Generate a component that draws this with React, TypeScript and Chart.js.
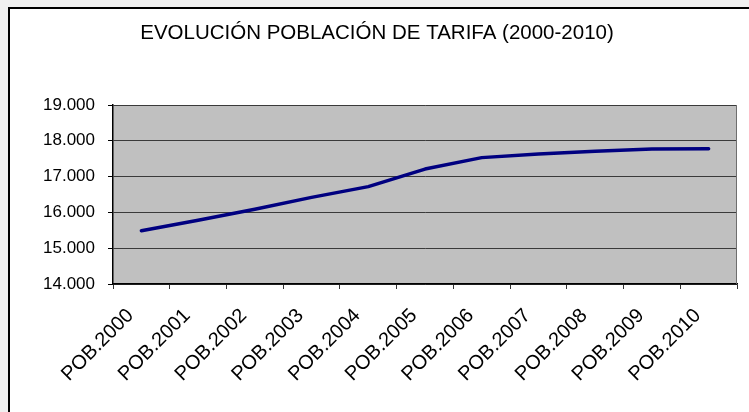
import React, { useEffect, useRef } from "react";
import { Chart, registerables } from "chart.js";

Chart.register(...registerables);

const categories = [
  "POB.2000", "POB.2001", "POB.2002", "POB.2003", "POB.2004", "POB.2005",
  "POB.2006", "POB.2007", "POB.2008", "POB.2009", "POB.2010",
];
const population = [15490, 15780, 16090, 16420, 16720, 17210, 17530, 17630, 17710, 17770, 17780];
const yMin = 14000;
const yMax = 19000;
const yStep = 1000;
const titleText = "EVOLUCIÓN POBLACIÓN DE TARIFA (2000-2010)";

const FONT = "'Liberation Sans', Arial, sans-serif";

const plotBg = {
  id: "plotBg",
  beforeDraw(chart: any) {
    const { ctx, chartArea } = chart;
    if (!chartArea) return;
    ctx.save();
    ctx.fillStyle = "#c0c0c0";
    ctx.fillRect(chartArea.left, chartArea.top, chartArea.right - chartArea.left, chartArea.bottom - chartArea.top);
    ctx.restore();
  },
  afterDatasetsDraw(chart: any) {
    const { ctx, chartArea } = chart;
    ctx.save();
    ctx.strokeStyle = "#6e6e6e";
    ctx.lineWidth = 1;
    ctx.beginPath();
    ctx.moveTo(chartArea.right - 0.5, chartArea.top);
    ctx.lineTo(chartArea.right - 0.5, chartArea.bottom);
    ctx.stroke();
    ctx.restore();
  },
};

function formatThousands(v: number) {
  return String(Math.round(v)).replace(/\B(?=(\d{3})+(?!\d))/g, ".");
}

export default function App() {
  const ref = useRef<HTMLCanvasElement | null>(null);
  useEffect(() => {
    document.body.style.margin = "0";
    const canvas = ref.current;
    if (!canvas) return;
    const chart = new Chart(canvas, {
      type: "line",
      data: {
        labels: categories,
        datasets: [
          {
            label: "Población",
            data: population,
            borderColor: "#000080",
            borderWidth: 3.5,
            pointRadius: 0,
            tension: 0,
            fill: false,
            borderCapStyle: "round",
            borderJoinStyle: "round",
          },
        ],
      },
      options: {
        responsive: false,
        animation: false,
        layout: { padding: { left: 7, right: 12, top: 0, bottom: 0 } },
        plugins: {
          legend: { display: false },
          tooltip: { enabled: false },
          title: {
            display: true,
            text: titleText,
            color: "#000",
            font: { family: FONT, size: 20.5, weight: "normal", lineHeight: 1.2 },
            padding: { top: 11.7, bottom: 59.7 },
          },
        },
        scales: {
          x: {
            type: "category",
            offset: true,
            grid: {
              offset: true,
              drawOnChartArea: false,
              drawTicks: true,
              tickLength: 5,
              color: "#333",
              lineWidth: 1,
            },
            border: { color: "#000", width: 1.5 },
            ticks: {
              color: "#000",
              font: { family: FONT, size: 20 },
              maxRotation: 45,
              minRotation: 45,
              autoSkip: false,
              padding: 15,
              labelOffset: -11,
            },
            afterFit(scale: any) {
              scale.height = 128;
            },
          },
          y: {
            min: yMin,
            max: yMax,
            grid: {
              color: "#3a3a3a",
              lineWidth: 1,
              drawTicks: true,
              tickLength: 5,
              tickColor: "#000",
            },
            border: { color: "#000", width: 1.5 },
            ticks: {
              stepSize: yStep,
              color: "#000",
              font: { family: FONT, size: 17 },
              padding: 13,
              callback: (v: any) => formatThousands(Number(v)),
            },
            afterFit(scale: any) {
              scale.width = 96;
            },
          },
        },
      },
      plugins: [plotBg],
    });
    return () => chart.destroy();
  }, []);

  return (
    <div style={{ position: "fixed", left: 0, top: 0, width: 749, height: 412, background: "#f0f0f0", overflow: "hidden" }}>
      <div
        style={{
          position: "absolute",
          left: 8,
          top: 7,
          width: 760,
          height: 420,
          borderTop: "2px solid #000",
          borderLeft: "2px solid #000",
          background: "#fff",
        }}
      >
        <canvas ref={ref} width={739} height={403} style={{ display: "block", width: 739, height: 403 }} />
      </div>
    </div>
  );
}
